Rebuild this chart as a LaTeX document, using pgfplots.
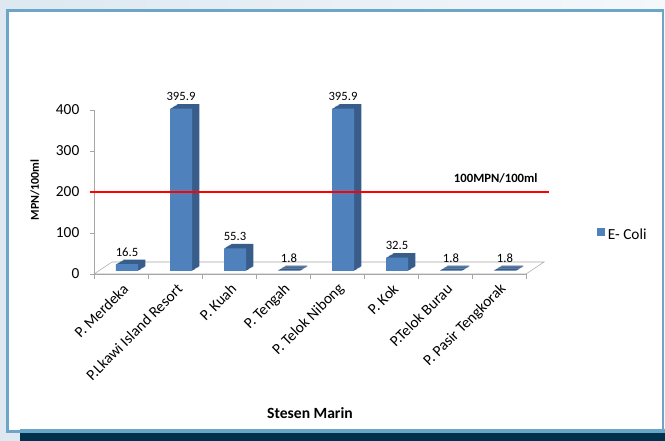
\documentclass[border=0pt]{standalone}
\usepackage{fontspec}
\setmainfont{Carlito}
\usepackage{pgfplots}
\pgfplotsset{compat=1.18}
\usepackage{pgfplotstable}

\definecolor{barfront}{HTML}{4F81BD}
\definecolor{barside}{HTML}{385D8A}
\definecolor{frameblue}{HTML}{6BA6C9}
\definecolor{navy}{HTML}{00324D}
\definecolor{bgleft}{HTML}{DDE8F0}
\definecolor{bgright}{HTML}{F4F8FB}
\definecolor{floorgray}{HTML}{A6A6A6}

\pgfplotstableread{
x val
0 16.5
1 395.9
2 55.3
3 1.8
4 395.9
5 32.5
6 1.8
7 1.8
}\ecoli

\begin{document}
\begin{tikzpicture}[font=\fontsize{11.5}{13}\selectfont]
% background and frame, in pixel units (y down)
\begin{scope}[x=0.75pt,y=-0.75pt]
\useasboundingbox (0,0) rectangle (665,441);
\shade[left color=bgleft,right color=bgright] (0,0) rectangle (665,441);
\fill[frameblue] (6,9) rectangle (664,433);
\fill[white] (9,12) rectangle (661.5,430);
\fill[frameblue] (20,429) rectangle (665,433);
\fill[navy] (20,433) rectangle (665,441);
\end{scope}

\begin{axis}[
	at={(70.5pt,-205.5pt)}, anchor=south west,
	scale only axis, width=324pt, height=123pt,
	xmin=-0.5, xmax=7.5, ymin=0, ymax=400,
	clip=false,
	axis x line*=bottom, axis y line*=left,
	axis line style={floorgray},
	xtick={0,...,7},
	xticklabels={P. Merdeka,P.Lkawi Island Resort,P. Kuah,P. Tengah,P. Telok Nibong,P. Kok,P.Telok Burau,P. Pasir Tengkorak},
	major x tick style={draw=none},
	minor xtick={-0.5,0.5,...,7.5},
	ytick={0,100,...,400},
	tick align=outside,
	tick style={floorgray},
	major tick length=3pt, minor tick length=3.75pt,
	xticklabel style={rotate=45, anchor=east, xshift=1.5pt, yshift=-7pt},
	yticklabel style={xshift=-4.5pt},
	/pgf/number format/assume math mode=true,
	ylabel={MPN/100ml},
	ylabel style={at={(rel axis cs:-0.137,0.512)}, anchor=center, font=\bfseries\fontsize{9}{11}\selectfont},
	xlabel={Stesen Marin},
	xlabel style={at={(rel axis cs:0.5,-0.848)}, anchor=center, font=\bfseries\fontsize{11.7}{14}\selectfont},
	legend style={at={(rel axis cs:1.155,0.238)}, anchor=west, draw=none, fill=none, font=\fontsize{11.5}{13}\selectfont},
]
% floor
\draw[floorgray, fill=white] (axis cs:-0.5,0) -- (axis cs:7.5,0) -- ([shift={(13.5pt,9pt)}]axis cs:7.5,0) -- ([shift={(13.5pt,9pt)}]axis cs:-0.5,0) -- cycle;

% side and top faces: the bars stacked in small steps towards the back
\pgfplotsinvokeforeach{1,...,8}{
\addplot[ybar, bar width=16.5pt, bar shift={4.5pt+0.7pt*#1}, yshift={2.25pt+0.425pt*#1}, fill=barside, draw=none, forget plot] table[x=x,y=val]{\ecoli};
}
\addplot[ybar, bar width=16.5pt, bar shift=4.5pt, yshift=2.25pt, fill=barfront, draw=none,
	nodes near coords, point meta=explicit,
	nodes near coords style={font=\fontsize{9.5}{11}\selectfont, anchor=south, inner sep=0pt, xshift=4.5pt, yshift=5.5pt, text=black},
	legend image code/.code={\fill[barfront] (0pt,-3pt) rectangle (6pt,3pt);}]
	table[x=x,y=val,meta=val]{\ecoli};
\addlegendentry{E- Coli}

\draw[red, line width=1.1pt] (axis cs:-0.57,200) -- (axis cs:7.93,200);
\node[font=\bfseries\fontsize{9.5}{11}\selectfont] at (axis cs:6.94,234) {100MPN/100ml};
\end{axis}
\end{tikzpicture}
\end{document}
